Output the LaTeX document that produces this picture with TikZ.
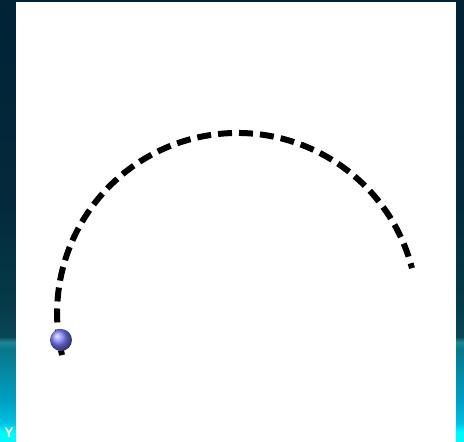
\documentclass[tikz,border=0pt]{standalone}
\usepackage{fontspec}
\setmainfont{Liberation Sans}
\usetikzlibrary{calc}
\definecolor{bgtop}{RGB}{2,34,54}
\definecolor{bgupper}{RGB}{3,42,60}
\definecolor{bgmid}{RGB}{5,58,72}
\definecolor{bgdark}{RGB}{8,70,85}
\definecolor{bgband}{RGB}{30,135,150}
\definecolor{bgteal}{RGB}{8,118,138}
\definecolor{bglight}{RGB}{0,160,195}
\definecolor{bgcyan}{RGB}{0,190,225}
\definecolor{bgbottom}{RGB}{0,248,255}
\definecolor{ballblue}{RGB}{125,125,255}
\pgfdeclareverticalshading{bgshade}{100bp}{color(0bp)=(bgbottom); color(26.1bp)=(bgbottom); color(27.2bp)=(bgcyan); color(29.75bp)=(bglight); color(35.5bp)=(bgteal); color(36.3bp)=(bgband); color(36.9bp)=(bgdark); color(41bp)=(bgmid); color(52bp)=(bgupper); color(75bp)=(bgtop); color(100bp)=(bgtop)}
\tikzset{
  dasharc/.style={line width=6pt, dash pattern=on 14pt off 7pt, dash phase=9pt},
  sphere/.style={circle, inner sep=0pt, minimum size=22pt, shading=ball, ball color=ballblue},
}
\begin{document}
\begin{tikzpicture}[x=1pt,y=1pt]
\useasboundingbox (0,0) rectangle (464,442);
\clip (0,0) rectangle (464,442);
\shade[shading=bgshade] (0,0) rectangle (464,442);
\node[text=white, font=\bfseries\fontsize{14}{14}\selectfont, anchor=north, inner sep=0pt] (frag) at (9,14) {Y};
\fill[white] (16,0) rectangle (456,440);
\coordinate (center) at (237.4,128.7);
\coordinate (arcend) at ($(center)+(14.5:180.3)$);
\draw[dasharc] (arcend) arc[start angle=14.5, end angle=193.4, radius=180.3];
\node[sphere] (ball) at (61,102) {};
\end{tikzpicture}
\end{document}
